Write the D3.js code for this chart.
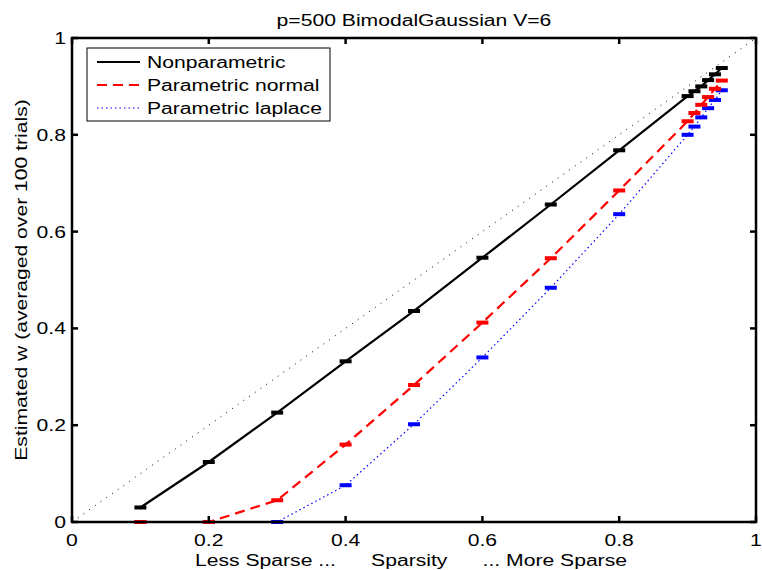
<!DOCTYPE html>
<html>
<head>
<meta charset="UTF-8" />
<title>p=500 BimodalGaussian V=6</title>
<script src="https://d3js.org/d3.v7.min.js"></script>
<style>
  body { margin: 0; background: #fff; }
  text { font-family: "Liberation Sans", Arial, sans-serif; fill: #000; }
</style>
</head>
<body>
<svg id="chart" width="762" height="570"></svg>
<script>
// sparsity levels on the x axis
var sparsity = [0.1, 0.2, 0.3, 0.4, 0.5, 0.6, 0.7, 0.8, 0.9, 0.91, 0.92, 0.93, 0.94, 0.95];

// estimated w, one array per method
var nonparametric = [0.03, 0.124, 0.226, 0.332, 0.436, 0.546, 0.656, 0.768, 0.88, 0.89, 0.90, 0.913, 0.925, 0.938];
var paramNormal   = [0, 0, 0.045, 0.16, 0.283, 0.412, 0.545, 0.685, 0.828, 0.845, 0.862, 0.878, 0.895, 0.912];
var paramLaplace  = [0, 0, 0, 0.076, 0.202, 0.34, 0.484, 0.636, 0.80, 0.817, 0.836, 0.855, 0.872, 0.892];

var xTicks = [0, 0.2, 0.4, 0.6, 0.8, 1];
var yTicks = [0, 0.2, 0.4, 0.6, 0.8, 1];

var seriesNames = ["Nonparametric", "Parametric normal", "Parametric laplace"];
var seriesColors = ["#000000", "#ff0000", "#0000ff"];
var seriesDash = [null, "10,6", "1.5,3"];
var seriesValues = [nonparametric, paramNormal, paramLaplace];

var svg = d3.select("#chart");
var plotLeft = 72, plotRight = 756, plotTop = 38, plotBottom = 522;
var stretch = 1.32;  // text in the original is wider than Arial at the same height

var x = d3.scaleLinear().domain([0, 1]).range([plotLeft, plotRight]);
var y = d3.scaleLinear().domain([0, 1]).range([plotBottom, plotTop]);

// widen a text element to match the reference
function widen(sel) {
  sel.each(function () {
    var len = this.getComputedTextLength();
    d3.select(this).attr("textLength", len * stretch).attr("lengthAdjust", "spacingAndGlyphs");
  });
}

// diagonal reference line
svg.append("line")
  .attr("x1", x(0)).attr("y1", y(0)).attr("x2", x(1)).attr("y2", y(1))
  .attr("stroke", "#000").attr("stroke-width", 1)
  .attr("stroke-dasharray", "1,6");

var line = d3.line()
  .x(function (d) { return x(d[0]); })
  .y(function (d) { return y(d[1]); });

// draw laplace first so black sits on top
[2, 1, 0].forEach(function (s) {
  var pts = sparsity.map(function (v, i) { return [v, seriesValues[s][i]]; });
  svg.append("path")
    .datum(pts)
    .attr("d", line)
    .attr("fill", "none")
    .attr("stroke", seriesColors[s])
    .attr("stroke-width", s == 2 ? 1.2 : 2.2)
    .attr("stroke-dasharray", seriesDash[s]);

  // error bar caps (tiny errors, so just the caps show)
  svg.selectAll(".cap" + s)
    .data(pts)
    .enter()
    .append("rect")
    .attr("x", function (d) { return x(d[0]) - 6; })
    .attr("y", function (d) { return y(d[1]) - 2; })
    .attr("width", 12)
    .attr("height", 4)
    .attr("fill", seriesColors[s]);
});

// axes box
var box = svg.append("g");
box.append("rect")
  .attr("x", plotLeft).attr("y", plotTop)
  .attr("width", plotRight - plotLeft).attr("height", plotBottom - plotTop)
  .attr("fill", "none").attr("stroke", "#000").attr("stroke-width", 2.5);

// inward ticks on all four sides
xTicks.forEach(function (t) {
  box.append("line").attr("x1", x(t)).attr("x2", x(t)).attr("y1", plotBottom).attr("y2", plotBottom - 6)
    .attr("stroke", "#000").attr("stroke-width", 2.5);
  box.append("line").attr("x1", x(t)).attr("x2", x(t)).attr("y1", plotTop).attr("y2", plotTop + 6)
    .attr("stroke", "#000").attr("stroke-width", 2.5);
  box.append("text")
    .attr("x", x(t)).attr("y", 546)
    .attr("text-anchor", "middle")
    .style("font-size", "16px")
    .text(d3.format("")(t))
    .call(widen);
});
yTicks.forEach(function (t) {
  box.append("line").attr("x1", plotLeft).attr("x2", plotLeft + 6).attr("y1", y(t)).attr("y2", y(t))
    .attr("stroke", "#000").attr("stroke-width", 2.5);
  box.append("line").attr("x1", plotRight).attr("x2", plotRight - 6).attr("y1", y(t)).attr("y2", y(t))
    .attr("stroke", "#000").attr("stroke-width", 2.5);
  box.append("text")
    .attr("x", 66).attr("y", y(t) + 6)
    .attr("text-anchor", "end")
    .style("font-size", "16px")
    .text(d3.format("")(t))
    .call(widen);
});

// title and axis labels
svg.append("text")
  .attr("x", (plotLeft + plotRight) / 2).attr("y", 26)
  .attr("text-anchor", "middle")
  .style("font-size", "16px")
  .text("p=500 BimodalGaussian V=6")
  .call(widen);

svg.append("text")
  .attr("x", (plotLeft + plotRight) / 2 - 3).attr("y", 566)
  .attr("text-anchor", "middle")
  .style("font-size", "16px")
  .style("white-space", "pre")
  .text("Less Sparse ...      Sparsity      ... More Sparse")
  .call(widen);

svg.append("text")
  .attr("transform", "translate(27," + ((plotTop + plotBottom) / 2) + ") rotate(-90)")
  .attr("text-anchor", "middle")
  .style("font-size", "16px")
  .text("Estimated w (averaged over 100 trials)")
  .call(widen);

// legend
var legend = svg.append("g");
legend.append("rect")
  .attr("x", 87).attr("y", 48).attr("width", 243).attr("height", 73)
  .attr("fill", "#fff").attr("stroke", "#000").attr("stroke-width", 1);
var rowY = [62, 85, 108];
seriesNames.forEach(function (name, i) {
  legend.append("line")
    .attr("x1", 97).attr("x2", 140).attr("y1", rowY[i]).attr("y2", rowY[i])
    .attr("stroke", seriesColors[i])
    .attr("stroke-width", i == 2 ? 1.2 : 2.2)
    .attr("stroke-dasharray", seriesDash[i]);
  legend.append("text")
    .attr("x", 147).attr("y", rowY[i] + 6)
    .style("font-size", "16px")
    .text(name)
    .call(widen);
});
</script>
</body>
</html>
